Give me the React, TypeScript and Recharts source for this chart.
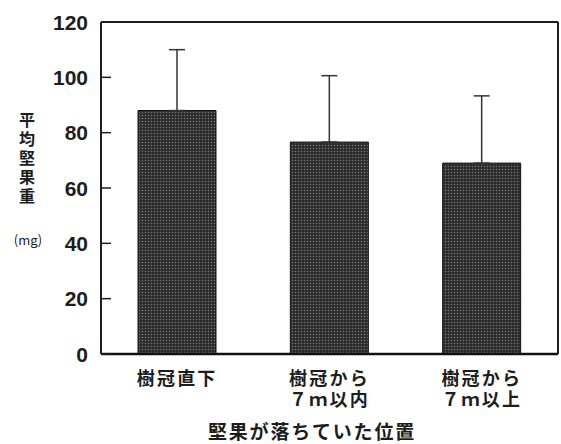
import { Bar, BarChart, CartesianGrid, ErrorBar, XAxis, YAxis } from 'recharts'

// nut drop position, mean nut weight (mg) and its SD
const places = ['樹冠直下', '樹冠から\n７ｍ以内', '樹冠から\n７ｍ以上']
const meanWeight = [88, 76.6, 69]
const sdWeight = [22, 24, 24.3]
const yTicks = [0, 20, 40, 60, 80, 100, 120]

// only the upper whisker is printed, so the lower offset is 0
const data = places.map((place, i) => ({
  place,
  mean: meanWeight[i],
  sd: [0, sdWeight[i]],
}))

const ink = '#1d1d1d'
const jp = '"Noto Sans CJK JP", sans-serif'

function YTick({ x, y, payload }: any) {
  return (
    <g>
      <line x1={x + 13} x2={x + 23} y1={y} y2={y} stroke={ink} strokeWidth={1.5} />
      <text
        x={x}
        y={y}
        dy="0.36em"
        textAnchor="end"
        fontFamily='"Liberation Sans", Arial, sans-serif'
        fontWeight="bold"
        fontSize={21}
        fill={ink}
      >
        {payload.value}
      </text>
    </g>
  )
}

// two-line category names, laid out as one html block
function XTick({ x, y, payload }: any) {
  return (
    <foreignObject x={x - 70} y={y + 13} width={140} height={50}>
      <div
        style={{
          fontFamily: jp,
          fontWeight: 'bold',
          fontSize: 18,
          letterSpacing: 2.2,
          lineHeight: '21px',
          color: ink,
          textAlign: 'center',
          whiteSpace: 'pre-line',
        }}
      >
        {payload.value}
      </div>
    </foreignObject>
  )
}

function YTitle() {
  return (
    <g fontFamily={jp} fill={ink}>
      <text
        x={27}
        y={112}
        fontSize={16}
        fontWeight="bold"
        letterSpacing={3}
        style={{ writingMode: 'vertical-rl' }}
      >
        平均堅果重
      </text>
      <text x={28} y={245} textAnchor="middle" fontSize={13}>
        (mg)
      </text>
    </g>
  )
}

function XTitle() {
  return (
    <text
      x={312}
      y={439}
      textAnchor="middle"
      fontFamily={jp}
      fontWeight="bold"
      fontSize={19}
      letterSpacing={1.8}
      fill={ink}
    >
      堅果が落ちていた位置
    </text>
  )
}

export default function App() {
  return (
    <div style={{ position: 'absolute', left: 0, top: 0, width: 561, height: 444, background: '#fff' }}>
      <svg width={0} height={0} style={{ position: 'absolute' }}>
        <defs>
          <pattern id="halftone" width={3} height={3} patternUnits="userSpaceOnUse">
            <rect width={3} height={3} fill="#2c2c2c" />
            <circle cx={1.5} cy={1.5} r={0.75} fill="#7a7a7a" />
          </pattern>
        </defs>
      </svg>
      <BarChart width={561} height={444} data={data} margin={{ top: 22, right: 3, bottom: 0, left: 0 }}>
        {/* top and right edges of the frame */}
        <CartesianGrid
          stroke={ink}
          strokeWidth={2}
          horizontalCoordinatesGenerator={({ offset }: any) => [offset.top]}
          verticalCoordinatesGenerator={({ offset }: any) => [offset.left + offset.width]}
        />
        <XAxis
          dataKey="place"
          height={90}
          tickSize={0}
          tickMargin={0}
          tick={<XTick />}
          axisLine={{ stroke: '#111', strokeWidth: 2.5 }}
          label={{ content: () => <XTitle /> }}
        />
        <YAxis
          domain={[0, 120]}
          ticks={yTicks}
          width={101}
          tickSize={0}
          tickMargin={13}
          tick={<YTick />}
          axisLine={{ stroke: ink, strokeWidth: 2 }}
          label={{ content: () => <YTitle /> }}
        />
        <Bar dataKey="mean" barSize={78} fill="url(#halftone)" stroke="#111" strokeWidth={1} isAnimationActive={false}>
          <ErrorBar dataKey="sd" direction="y" width={8} stroke="#333" strokeWidth={1.5} />
        </Bar>
      </BarChart>
    </div>
  )
}
